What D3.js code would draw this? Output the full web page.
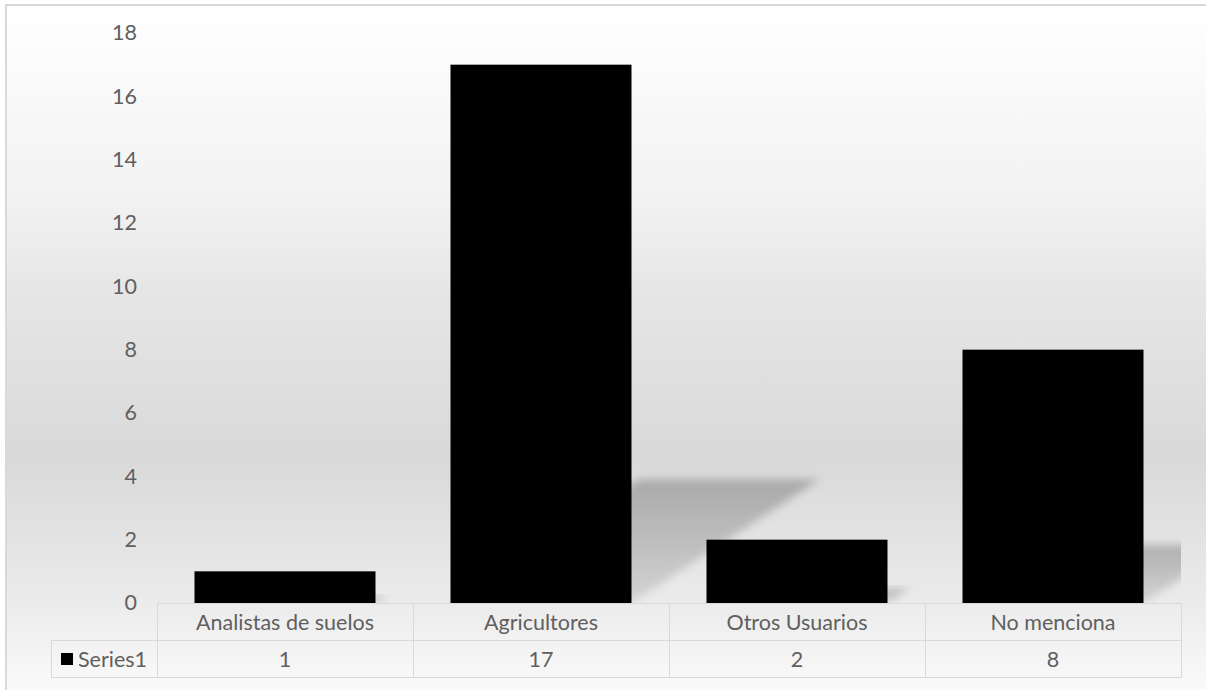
<!DOCTYPE html>
<html>
<head>
<meta charset="utf-8">
<script src="https://cdn.jsdelivr.net/npm/d3@7"></script>
<style>
  html, body { margin: 0; padding: 0; background: #ffffff; }
  svg { display: block; }
  text { font-family: Lato, "Open Sans", sans-serif; fill: #5f5f5f; }
</style>
</head>
<body>
<svg id="chart" width="1206" height="690"></svg>
<script>
// Data
const categories = ["Analistas de suelos", "Agricultores", "Otros Usuarios", "No menciona"];
const seriesName = "Series1";
const values = [1, 17, 2, 8];
const yTicks = [0, 2, 4, 6, 8, 10, 12, 14, 16, 18];

const W = 1206, H = 690;
const plot = { left: 157, right: 1181, top: 33, bottom: 603 };
const rowH = 37;
const fontPx = "21.5px";

const svg = d3.select("#chart");
const defs = svg.append("defs");

// Chart-area background: white at top, grey in the lower middle, light at bottom
const bg = defs.append("linearGradient")
  .attr("id", "bgGrad").attr("gradientUnits", "userSpaceOnUse")
  .attr("x1", 0).attr("y1", 5).attr("x2", 0).attr("y2", H);
[[0, "#ffffff"], [0.28, "#f2f2f2"], [0.42, "#e6e6e6"], [0.66, "#d9d9d9"], [0.86, "#eaeaea"], [1, "#fafafa"]]
  .forEach(([o, c]) => bg.append("stop").attr("offset", o).attr("stop-color", c));

// Cast shadow fill and softening
const sg = defs.append("linearGradient")
  .attr("id", "shadowGrad").attr("x1", 0).attr("y1", 0).attr("x2", 0).attr("y2", 1);
sg.append("stop").attr("offset", 0).attr("stop-color", "#000").attr("stop-opacity", 0.23);
sg.append("stop").attr("offset", 1).attr("stop-color", "#000").attr("stop-opacity", 0.10);
defs.append("filter").attr("id", "blur").attr("x", "-20%").attr("y", "-20%")
  .attr("width", "140%").attr("height", "140%")
  .append("feGaussianBlur").attr("stdDeviation", 4);
defs.append("clipPath").attr("id", "plotClip").append("rect")
  .attr("x", plot.left).attr("y", 0)
  .attr("width", plot.right - plot.left).attr("height", plot.bottom);

svg.append("rect").attr("x", 6).attr("y", 5).attr("width", W + 10).attr("height", H + 10)
  .attr("fill", "url(#bgGrad)").attr("stroke", "#d9d9d9").attr("stroke-width", 2);

// Scales
const x = d3.scaleBand().domain(categories)
  .range([plot.left, plot.right]).paddingInner(0.293).paddingOuter(0.1465);
const cell = d3.scaleBand().domain(categories).range([plot.left, plot.right]);
const y = d3.scaleLinear().domain([0, 18]).range([plot.bottom, plot.top]);

// Value axis labels (no line, no ticks)
const yAxis = svg.append("g").attr("transform", `translate(${137},0)`)
  .call(d3.axisLeft(y).tickValues(yTicks).tickSize(0).tickPadding(0));
yAxis.select(".domain").remove();
yAxis.selectAll("text").style("font-size", fontPx).attr("fill", "#5f5f5f")
  .attr("font-family", "Lato, 'Open Sans', sans-serif");

// Perspective shadows cast to the upper right
const data = categories.map((c, i) => ({ c, v: values[i] }));
svg.append("g").attr("clip-path", "url(#plotClip)")
  .selectAll("path").data(data).join("path")
  .attr("d", d => {
    const x0 = x(d.c), x1 = x0 + x.bandwidth();
    const h = y(0) - y(d.v);
    const dx = 0.35 * h, dy = 0.23 * h;
    return `M${x0},${y(0)}L${x1},${y(0)}L${x1 + dx},${y(0) - dy}L${x0 + dx},${y(0) - dy}Z`;
  })
  .attr("fill", "url(#shadowGrad)")
  .attr("filter", "url(#blur)");

// Bars
svg.append("g").selectAll("rect").data(data).join("rect")
  .attr("x", d => x(d.c)).attr("width", x.bandwidth())
  .attr("y", d => y(d.v)).attr("height", d => y(0) - y(d.v))
  .attr("fill", "#000000");

// Data table under the axis
const grid = svg.append("g").attr("stroke", "#d9d9d9").attr("stroke-width", 1).attr("fill", "none");
const t0 = plot.bottom + 0.5, t1 = t0 + rowH, t2 = t1 + rowH;
const legendLeft = 51.5;
grid.append("line").attr("x1", plot.left).attr("x2", plot.right).attr("y1", t0).attr("y2", t0);
grid.append("line").attr("x1", legendLeft).attr("x2", plot.right).attr("y1", t1).attr("y2", t1);
grid.append("line").attr("x1", legendLeft).attr("x2", plot.right).attr("y1", t2).attr("y2", t2);
grid.append("line").attr("x1", legendLeft).attr("x2", legendLeft).attr("y1", t1).attr("y2", t2);
const edges = categories.map(c => cell(c)).concat([plot.right]);
grid.selectAll("line.v").data(edges).join("line").attr("class", "v")
  .attr("x1", d => Math.round(d) + 0.5).attr("x2", d => Math.round(d) + 0.5)
  .attr("y1", t0).attr("y2", t2);

svg.append("g").selectAll("text").data(categories).join("text")
  .attr("x", d => cell(d) + cell.bandwidth() / 2).attr("y", (t0 + t1) / 2)
  .attr("text-anchor", "middle").attr("dominant-baseline", "central")
  .style("font-size", fontPx).text(d => d);

svg.append("g").selectAll("text").data(data).join("text")
  .attr("x", d => cell(d.c) + cell.bandwidth() / 2).attr("y", (t1 + t2) / 2)
  .attr("text-anchor", "middle").attr("dominant-baseline", "central")
  .style("font-size", fontPx).text(d => d.v);

// Legend key in the table
svg.append("rect").attr("x", 61).attr("y", (t1 + t2) / 2 - 6).attr("width", 12).attr("height", 12)
  .attr("fill", "#000");
svg.append("text").attr("x", 78).attr("y", (t1 + t2) / 2)
  .attr("dominant-baseline", "central").style("font-size", fontPx).text(seriesName);
</script>
</body>
</html>
